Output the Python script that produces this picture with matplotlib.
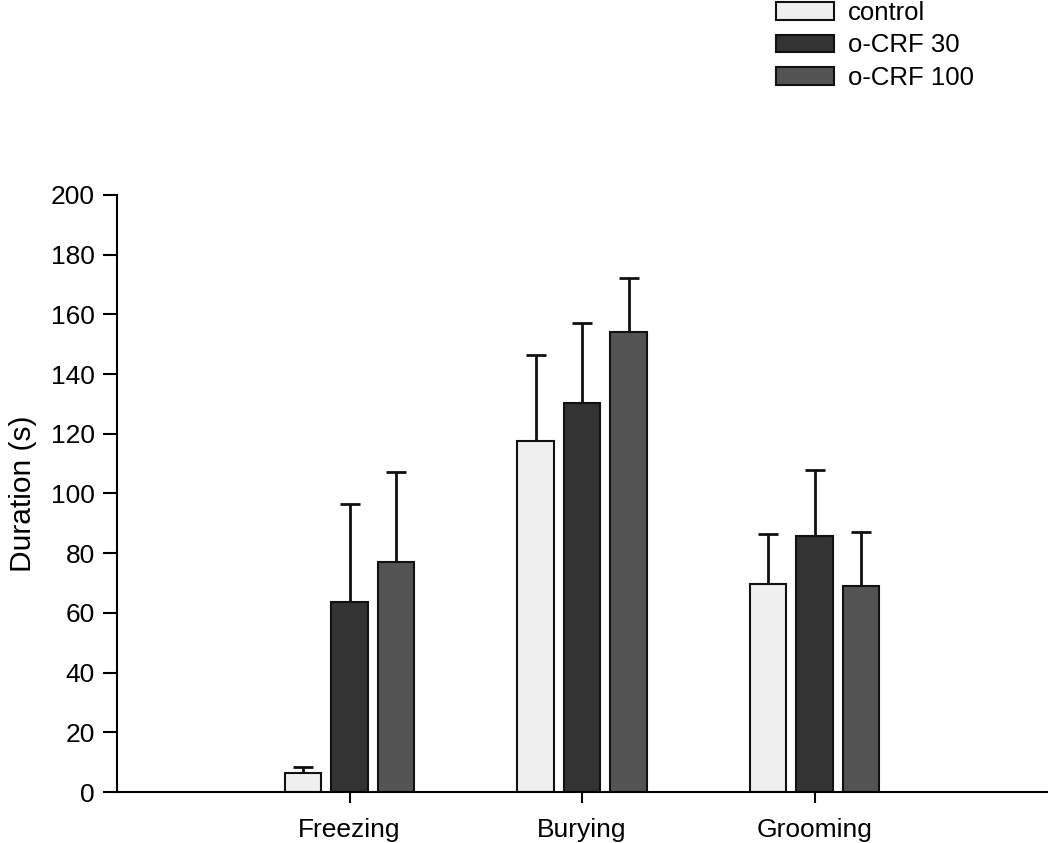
import numpy as np
import matplotlib.pyplot as plt

plt.rcParams['font.family'] = ['Liberation Sans', 'DejaVu Sans']

behaviours = ["Freezing", "Burying", "Grooming"]
groups = ["control", "o-CRF 30", "o-CRF 100"]
colors = ["#efefef", "#333333", "#535353"]

# mean duration and upper error bar top (s)
means = {
    "control": [6.3, 117.6, 69.7],
    "o-CRF 30": [63.5, 130.2, 85.8],
    "o-CRF 100": [77.0, 154.0, 69.1],
}
err_top = {
    "control": [8.4, 146.4, 86.4],
    "o-CRF 30": [96.4, 157.2, 107.9],
    "o-CRF 100": [107.1, 172.1, 87.1],
}

fig = plt.figure(figsize=(10.5, 8.43), dpi=100)
ax = fig.add_axes([117 / 1050, 1 - 792 / 843, 930 / 1050, 597 / 843])

x = np.arange(1, len(behaviours) + 1)
width = 0.155
offsets = [-0.2, 0.0, 0.2]
for g, c, off in zip(groups, colors, offsets):
    m = np.array(means[g])
    e = np.array(err_top[g]) - m
    ax.bar(x + off, m, width, color=c, edgecolor="#111111", linewidth=1.5,
           label=g, zorder=2)
    ax.errorbar(x + off, m, yerr=[np.zeros_like(e), e], fmt="none",
                ecolor="#111111", elinewidth=2, capsize=7.2, capthick=2,
                zorder=1)

ax.set_xlim(0, 4)
ax.set_ylim(0, 200)
ax.set_yticks(range(0, 201, 20))
ax.set_xticks(x)
ax.set_xticklabels(behaviours)
ax.tick_params(axis="both", labelsize=19, width=1.5, direction="out")
ax.tick_params(axis="y", length=10, pad=6)
ax.tick_params(axis="x", length=8, pad=11)
for s in ["top", "right"]:
    ax.spines[s].set_visible(False)
for s in ["left", "bottom"]:
    ax.spines[s].set_linewidth(1.5)
ax.set_ylabel("Duration (s)", fontsize=21.5, labelpad=10)

ax.legend(loc="upper left", bbox_to_anchor=(776 / 1050, 1 - 1 / 843),
          bbox_transform=fig.transFigure, frameon=False, fontsize=18.5,
          handlelength=2.25, handleheight=0.65, labelspacing=0.33,
          handletextpad=0.55, borderaxespad=0.0, borderpad=0.0)

fig.savefig("out.png", dpi=100)
